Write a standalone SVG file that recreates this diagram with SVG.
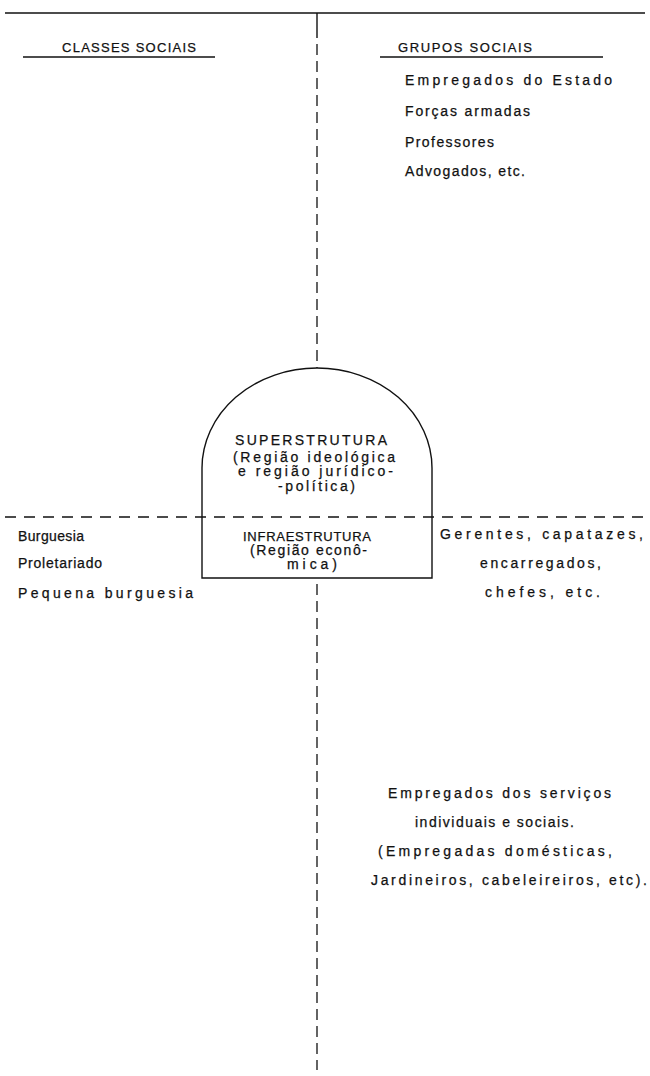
<svg xmlns="http://www.w3.org/2000/svg" width="650" height="1076" viewBox="0 0 650 1076">
  <style>
    text { font-family: "Liberation Sans", Arial, sans-serif; font-size: 14px; fill: #111; stroke: #111; stroke-width: 0.25; }
    text.s { font-size: 13px; }
    .line { stroke: #111; stroke-width: 1.4; fill: none; }
    .dash-v { stroke: #111; stroke-width: 1.3; fill: none; stroke-dasharray: 11 6; }
    .dash-h { stroke: #111; stroke-width: 1.3; fill: none; stroke-dasharray: 11 8; }
  </style>
  <rect width="650" height="1076" fill="#fff"/>

  <g id="connectors">
    <!-- top rule and column axis -->
    <line class="line" x1="5" y1="13" x2="645" y2="13"/>
    <line class="line" x1="317" y1="13" x2="317" y2="38"/>
    <line class="dash-v" x1="317" y1="44" x2="317" y2="368"/>
    <!-- regions divider -->
    <line class="dash-h" x1="5" y1="517" x2="645" y2="517"/>
    <!-- axis below the structure -->
    <line class="dash-v" x1="317" y1="584" x2="317" y2="1070"/>
    <!-- heading underlines -->
    <line class="line" x1="23" y1="57" x2="215" y2="57"/>
    <line class="line" x1="380" y1="57" x2="603" y2="57"/>
  </g>

  <g id="header-classes">
    <text class="s" x="62" y="52" textLength="134" lengthAdjust="spacing">CLASSES SOCIAIS</text>
  </g>
  <g id="header-grupos">
    <text class="s" x="398" y="52" textLength="134" lengthAdjust="spacing">GRUPOS SOCIAIS</text>
  </g>

  <g id="grupos-superstrutura">
    <text x="405" y="85" textLength="207" lengthAdjust="spacing">Empregados do Estado</text>
    <text x="405" y="116" textLength="125" lengthAdjust="spacing">Forças armadas</text>
    <text x="405" y="147" textLength="89" lengthAdjust="spacing">Professores</text>
    <text x="405" y="176" textLength="120" lengthAdjust="spacing">Advogados, etc.</text>
  </g>

  <g id="estrutura">
    <path class="line" d="M202,578 L202,468 A115,100 0 0 1 432,468 L432,578 Z"/>
    <text x="235" y="445" textLength="152" lengthAdjust="spacing">SUPERSTRUTURA</text>
    <text x="233" y="462" textLength="162" lengthAdjust="spacing">(Região  ideológica</text>
    <text x="238" y="476" textLength="155" lengthAdjust="spacing">e região jurídico-</text>
    <text x="278" y="491" textLength="77" lengthAdjust="spacing">-política)</text>
    <text class="s" x="243" y="541" textLength="128" lengthAdjust="spacing">INFRAESTRUTURA</text>
    <text x="250" y="555" textLength="117" lengthAdjust="spacing">(Região econô-</text>
    <text x="287" y="569" textLength="50" lengthAdjust="spacing">mica)</text>
  </g>

  <g id="classes-sociais">
    <text x="18" y="541" textLength="66" lengthAdjust="spacing">Burguesia</text>
    <text x="18" y="568" textLength="84" lengthAdjust="spacing">Proletariado</text>
    <text x="18" y="598" textLength="175" lengthAdjust="spacing">Pequena burguesia</text>
  </g>

  <g id="grupos-infraestrutura">
    <text x="440" y="539" textLength="203" lengthAdjust="spacing">Gerentes,  capatazes,</text>
    <text x="480" y="568" textLength="121" lengthAdjust="spacing">encarregados,</text>
    <text x="485" y="597" textLength="115" lengthAdjust="spacing">chefes, etc.</text>
  </g>

  <g id="grupos-servicos">
    <text x="388" y="798" textLength="223" lengthAdjust="spacing">Empregados dos serviços</text>
    <text x="415" y="827" textLength="159" lengthAdjust="spacing">individuais e sociais.</text>
    <text x="378" y="856" textLength="234" lengthAdjust="spacing">(Empregadas domésticas,</text>
    <text x="371" y="885" textLength="276" lengthAdjust="spacing">Jardineiros, cabeleireiros, etc).</text>
  </g>
</svg>
